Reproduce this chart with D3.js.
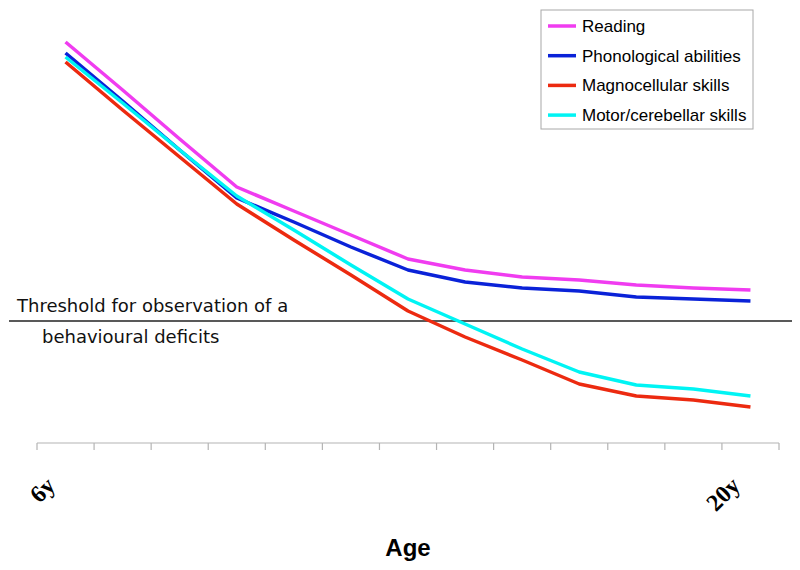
<!DOCTYPE html>
<html><head><meta charset="utf-8">
<script src="https://cdn.jsdelivr.net/npm/d3@7/dist/d3.min.js"></script>
<style>body{margin:0;background:#fff}svg{display:block}</style>
</head><body>
<svg id="chart" width="800" height="570"></svg>
<script>
const categories = ["6y","","","","","","","","","","","","20y"];
const reading      = [40.1,35.3,30.4,25.6,23.2,20.8,18.4,17.3,16.6,16.3,15.8,15.5,15.3];
const phonological = [39.0,34.2,29.3,24.5,22.1,19.6,17.3,16.1,15.5,15.2,14.6,14.4,14.2];
const magnocellular= [38.1,33.3,28.6,23.9,20.3,16.8,13.2,10.6,8.3,5.9,4.7,4.3,3.6];
const motor        = [38.6,34.0,29.3,24.7,21.3,17.8,14.4,11.9,9.4,7.1,5.8,5.4,4.7];
const threshold = 12.2;
const seriesNames = ["Reading","Phonological abilities","Magnocellular skills","Motor/cerebellar skills"];
const seriesColors = ["#f03cf0","#0a22d8","#ec2a10","#00f4f4"];
const seriesValues = [reading, phonological, magnocellular, motor];

const svg = d3.select("#chart");
const idx = d3.range(categories.length);
const x = d3.scaleBand().domain(idx).range([37, 779]).padding(0);
const y = d3.scaleLinear().domain([0, 42]).range([443, 23]);
const cx = i => x(i) + x.bandwidth()/2;

// axis
const axisG = svg.append("g");
axisG.append("line").attr("x1", 37).attr("x2", 779).attr("y1", y(0)).attr("y2", y(0))
  .attr("stroke", "#b4b4b4").attr("stroke-width", 1.2);
const tickPos = idx.map(i => x(i)).concat([x.range()[1]]);
axisG.selectAll("line.tick").data(tickPos).join("line").attr("class","tick")
  .attr("x1", d => d).attr("x2", d => d).attr("y1", y(0)).attr("y2", y(0) + 7)
  .attr("stroke", "#b4b4b4").attr("stroke-width", 1.2);
axisG.selectAll("text.lab").data(idx.filter(i => categories[i] !== "")).join("text")
  .attr("class","lab")
  .attr("transform", i => `translate(${cx(i) - 9},${y(0) + 44}) rotate(-45)`)
  .attr("text-anchor", "end")
  .attr("font-family", "Liberation Serif, serif").attr("font-weight", "bold").attr("font-size", 24)
  .text(i => categories[i]);

svg.append("text").attr("x", 408).attr("y", 556).attr("text-anchor", "middle")
  .attr("font-family", "Liberation Sans, Arial, sans-serif").attr("font-weight", "bold")
  .attr("font-size", 24).text("Age");

// threshold
svg.append("line").attr("x1", 9).attr("x2", 792).attr("y1", y(threshold)).attr("y2", y(threshold))
  .attr("stroke", "#222").attr("stroke-width", 1.5);
svg.append("text").attr("x", 17).attr("y", 312)
  .attr("font-family", "DejaVu Sans, sans-serif").attr("font-size", 18).attr("fill", "#111")
  .text("Threshold for observation of a");
svg.append("text").attr("x", 42).attr("y", 343)
  .attr("font-family", "DejaVu Sans, sans-serif").attr("font-size", 18).attr("fill", "#111")
  .text("behavioural deficits");

// lines
const line = d3.line().x((d, i) => cx(i)).y(d => y(d));
svg.selectAll("path.series").data(seriesValues).join("path").attr("class","series")
  .attr("d", d => line(d)).attr("fill", "none")
  .attr("stroke", (d, i) => seriesColors[i]).attr("stroke-width", 3.5)
  .attr("stroke-linejoin", "round");

// legend
const lg = svg.append("g");
lg.append("rect").attr("x", 541).attr("y", 10).attr("width", 212).attr("height", 119)
  .attr("fill", "#fff").attr("stroke", "#a8a8a8").attr("stroke-width", 1);
const rows = lg.selectAll("g.row").data(seriesNames).join("g").attr("class","row")
  .attr("transform", (d, i) => `translate(0,${26 + i * 29.7})`);
rows.append("line").attr("x1", 548).attr("x2", 576).attr("y1", 0).attr("y2", 0)
  .attr("stroke", (d, i) => seriesColors[i]).attr("stroke-width", 3.5);
rows.append("text").attr("x", 582).attr("y", 6)
  .attr("font-family", "Liberation Sans, Arial, sans-serif").attr("font-size", 17)
  .text(d => d);
</script>
</body></html>
